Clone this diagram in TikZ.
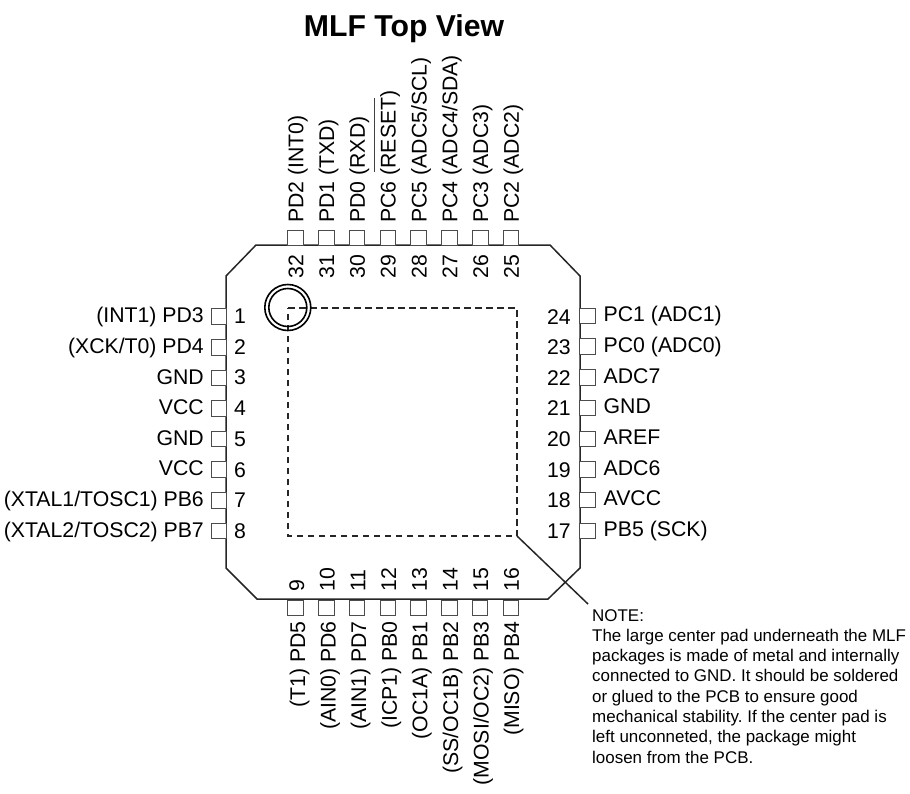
\documentclass[tikz,border=0pt]{standalone}
\usepackage{fontspec}
\setmainfont{Liberation Sans}
\begin{document}
\frenchspacing
\begin{tikzpicture}[x=1pt,y=-1pt,
  pad/.style={draw=black!70,line width=1pt,minimum size=15.5pt,inner sep=0pt,fill=white},
  lbl/.style={inner sep=0pt,font=\fontsize{21.25}{24}\selectfont},
  body/.style={draw=black!85,line width=1.5pt,line join=miter}]
\useasboundingbox (0,0) rectangle (910,793);
\node[inner sep=0pt,anchor=base,font=\bfseries\fontsize{30.2}{34}\selectfont] (title) at (404,36) {MLF Top View};
% body
\draw[body] (256,245) -- (550,245) -- (580,276) -- (580,568) -- (548,599) -- (257,599) -- (226,568) -- (226,276) -- cycle;
% left pins
\foreach \n/\t [count=\i from 0] in {1/{(INT1) PD3},2/{(XCK/T0) PD4},3/GND,4/VCC,5/GND,6/VCC,7/{(XTAL1/TOSC1) PB6},8/{(XTAL2/TOSC2) PB7}}{
  \node[pad] (p\n) at (219,{316.7+30.6*\i}) {};
  \node[lbl,anchor=base east] (t\n) at (204,{322.8+30.6*\i}) {\t};
  \node[lbl,anchor=base west] (n\n) at (234,{323.5+30.7*\i}) {\n};
}
% right pins
\foreach \n/\t [count=\i from 0] in {24/{PC1 (ADC1)},23/{PC0 (ADC0)},22/ADC7,21/GND,20/AREF,19/ADC6,18/AVCC,17/{PB5 (SCK)}}{
  \node[pad] (p\n) at (587.5,{316+30.7*\i}) {};
  \node[lbl,anchor=base west] (t\n) at (603.5,{321.7+30.7*\i}) {\t};
  \node[lbl,anchor=base east] (n\n) at (571,{324+30.6*\i}) {\n};
}
% top pins
\foreach \n/\t [count=\i from 0] in {32/{PD2 (INT0)},31/{PD1 (TXD)},30/{PD0 (RXD)},29/{PC6 (RESET)},28/{PC5 (ADC5/SCL)},27/{PC4 (ADC4/SDA)},26/{PC3 (ADC3)},25/{PC2 (ADC2)}}{
  \node[pad] (p\n) at ({295.5+30.8*\i},238) {};
  \node[lbl,rotate=90,anchor=base west] (t\n) at ({303.3+30.8*\i},223) {\t};
  \node[lbl,rotate=90,anchor=base east] (n\n) at ({303.3+30.8*\i},254.5) {\n};
}
% bottom pins
\foreach \n/\t [count=\i from 0] in {9/{(T1) PD5},10/{(AIN0) PD6},11/{(AIN1) PD7},12/{(ICP1) PB0},13/{(OC1A) PB1},14/{(SS/OC1B) PB2},15/{(MOSI/OC2) PB3},16/{(MISO) PB4}}{
  \node[pad] (p\n) at ({295.5+30.75*\i},608) {};
  \node[lbl,rotate=90,anchor=base east] (t\n) at ({305+30.6*\i},621) {\t};
  \node[lbl,rotate=90,anchor=base west] (n\n) at ({304+30.7*\i},591.5) {\n};
}
% overline on RESET
\coordinate (ola) at (374.3,172);
\coordinate (olb) at (374.3,98);
\draw[black!75,line width=1pt] (ola) -- (olb);
% centre pad
\coordinate (c1) at (288,308);
\coordinate (c2) at (517,308);
\coordinate (c3) at (517,536);
\coordinate (c4) at (288,536);
\draw[black!85,line width=1.3pt,dash pattern=on 6.5pt off 4.5pt] (c1) -- (c2) -- (c3) -- (c4) -- cycle;
% pin 1 mark
\coordinate (m) at (287.8,307.5);
\draw[black,line width=1.6pt] (m) circle (23);
\draw[black,line width=1.6pt] (m) circle (19);
% note
\coordinate (ne) at (588,604);
\draw[black!85,line width=1.5pt] (c3) -- (ne);
\node[anchor=north west,inner sep=0pt,align=left,font=\fontsize{16.95}{20.3}\selectfont] (note) at (592,609) {NOTE:\\
The large center pad underneath the MLF\\
packages is made of metal and internally\\
connected to GND. It should be soldered\\
or glued to the PCB to ensure good\\
mechanical stability. If the center pad is\\
left unconneted, the package might\\
loosen from the PCB.};
\end{tikzpicture}
\end{document}
